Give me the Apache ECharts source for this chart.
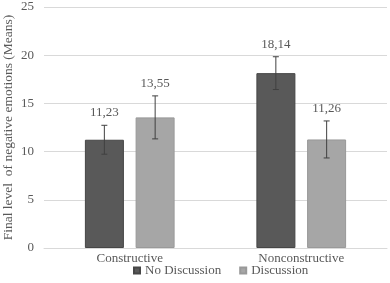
<!DOCTYPE html>
<html>
<head>
<meta charset="utf-8">
<script src="https://cdn.jsdelivr.net/npm/echarts@6/dist/echarts.min.js"></script>
<style>
  html, body { margin: 0; padding: 0; background: #fff; }
  #chart { width: 390px; height: 283px; }
</style>
</head>
<body>
<div id="chart"></div>
<script>
var categories = ['Constructive', 'Nonconstructive'];
var noDiscussion = [11.23, 18.14];
var discussion = [13.55, 11.26];
var noDiscussionErr = [1.5, 1.7];
var discussionErr = [2.23, 1.92];
var yTicks = [0, 5, 10, 15, 20, 25];

var FONT = '"Liberation Serif", "Times New Roman", serif';
var TXT = '#595959';

function fmt(v) {
  return v.toFixed(2).replace('.', ',');
}

// error bar + value label, shifted to sit over its bar
function errorBars(offset) {
  return function (params, api) {
    var i = api.value(0);
    var v = api.value(1);
    var e = api.value(2);
    var hi = api.coord([i, v + e]);
    var lo = api.coord([i, v - e]);
    var x = hi[0] + offset;
    var st = { stroke: '#404040', lineWidth: 1 };
    return {
      type: 'group',
      children: [
        { type: 'line', shape: { x1: x, y1: hi[1], x2: x, y2: lo[1] }, style: st },
        { type: 'line', shape: { x1: x - 3, y1: hi[1], x2: x + 3, y2: hi[1] }, style: st },
        { type: 'line', shape: { x1: x - 3, y1: lo[1], x2: x + 3, y2: lo[1] }, style: st },
        { type: 'text', x: x, y: hi[1] - 6,
          style: { text: fmt(v), textAlign: 'center', textVerticalAlign: 'bottom',
                   font: '13px ' + FONT, fill: TXT } }
      ]
    };
  };
}

var chart = echarts.init(document.getElementById('chart'));
chart.setOption({
  animation: false,
  grid: { left: 44, right: 3, top: 7, bottom: 35, outerBoundsMode: 'none', containLabel: false },
  legend: {
    bottom: 1, left: 128,
    icon: 'rect', itemWidth: 6, itemHeight: 6, itemGap: 18,
    textStyle: { fontFamily: FONT, fontSize: 13, color: TXT },
    data: ['No Discussion', 'Discussion']
  },
  xAxis: {
    type: 'category',
    data: categories,
    axisLine: { lineStyle: { color: '#d9d9d9' } },
    axisTick: { show: false },
    axisLabel: { fontFamily: FONT, fontSize: 13, color: TXT, margin: 4 }
  },
  yAxis: {
    type: 'value',
    min: yTicks[0], max: yTicks[yTicks.length - 1], interval: 5,
    name: 'Final level  of negative emotions (Means)',
    nameLocation: 'middle', nameGap: 29, nameMoveOverlap: false,
    nameTextStyle: { fontFamily: FONT, fontSize: 13.5, color: TXT },
    splitLine: { lineStyle: { color: '#d9d9d9' } },
    axisLabel: { fontFamily: FONT, fontSize: 13, color: TXT, margin: 10 }
  },
  series: [
    {
      name: 'No Discussion', type: 'bar', data: noDiscussion,
      barWidth: 39, barGap: '30%',
      itemStyle: { color: '#595959', borderColor: '#464646', borderWidth: 1 }
    },
    {
      name: 'Discussion', type: 'bar', data: discussion,
      barWidth: 39,
      itemStyle: { color: '#a6a6a6', borderColor: '#999999', borderWidth: 1 }
    },
    {
      type: 'custom', z: 5, silent: true,
      renderItem: errorBars(-25.4),
      data: noDiscussion.map(function (v, i) { return [i, v, noDiscussionErr[i]]; })
    },
    {
      type: 'custom', z: 5, silent: true,
      renderItem: errorBars(25.4),
      data: discussion.map(function (v, i) { return [i, v, discussionErr[i]]; })
    }
  ]
});
</script>
</body>
</html>
